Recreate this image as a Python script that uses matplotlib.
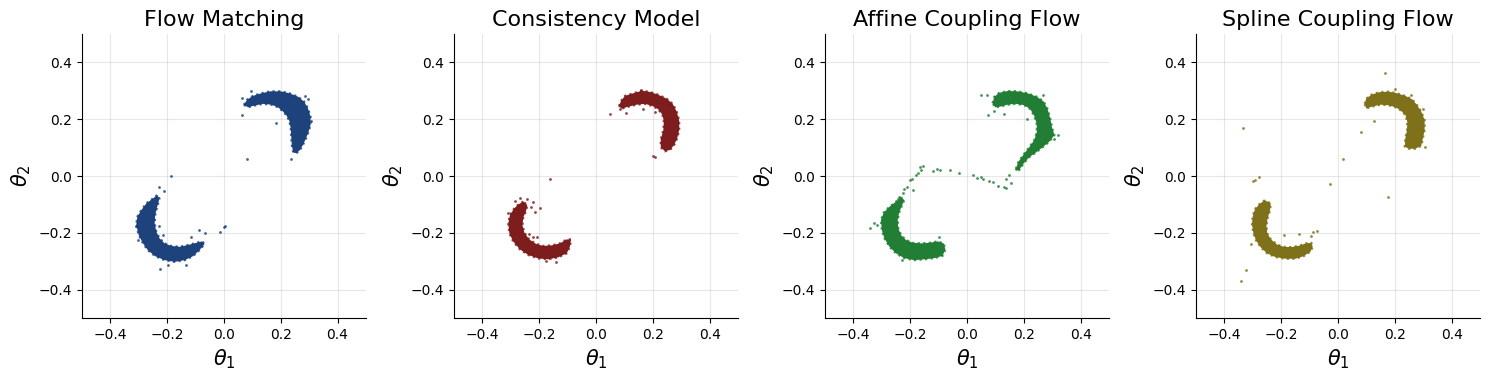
"""Four-panel comparison of posterior samples (two-moons) for different generative models."""
import numpy as np
import matplotlib
matplotlib.use("Agg")
import matplotlib.pyplot as plt

TITLES = ["Flow Matching", "Consistency Model", "Affine Coupling Flow", "Spline Coupling Flow"]
COLORS = ["#153c78", "#7a1515", "#1b7a2e", "#7a6c12"]
TICKS = [-0.4, -0.2, 0.0, 0.2, 0.4]

# outlines of the dense sample regions (outer edge then inner edge)
FM_UP_X = [0.070, 0.081, 0.102, 0.131, 0.164, 0.200, 0.231, 0.261, 0.282, 0.296, 0.305, 0.305, 0.298, 0.289,
           0.278, 0.268, 0.255, 0.244, 0.239, 0.237, 0.235, 0.230, 0.219, 0.205, 0.190, 0.167, 0.137, 0.108, 0.085]
FM_UP_Y = [0.250, 0.268, 0.282, 0.291, 0.298, 0.298, 0.291, 0.279, 0.262, 0.238, 0.209, 0.180, 0.156, 0.133,
           0.109, 0.092, 0.080, 0.083, 0.109, 0.138, 0.168, 0.195, 0.215, 0.230, 0.242, 0.251, 0.254, 0.248, 0.242]
FM_LO_X = [-0.235, -0.250, -0.273, -0.291, -0.305, -0.309, -0.300, -0.285, -0.268, -0.242, -0.209, -0.174, -0.138,
           -0.109, -0.086, -0.068, -0.077, -0.097, -0.127, -0.156, -0.185, -0.209, -0.227, -0.238, -0.244, -0.242,
           -0.235, -0.227]
FM_LO_Y = [-0.067, -0.079, -0.096, -0.120, -0.143, -0.173, -0.208, -0.237, -0.261, -0.282, -0.296, -0.302, -0.296,
           -0.282, -0.261, -0.239, -0.230, -0.235, -0.243, -0.249, -0.246, -0.237, -0.219, -0.196, -0.167, -0.137,
           -0.108, -0.079]
FM_PTS_X = [0.065, 0.063, 0.082, 0.094, 0.184, 0.235, 0.308, 0.296, 0.284, -0.185, -0.227, -0.211, 0.005, 0.000,
            -0.015, -0.065, -0.089, -0.115, -0.224, -0.134, -0.197, -0.311, -0.303, -0.230, -0.215]
FM_PTS_Y = [0.276, 0.214, 0.061, 0.299, 0.185, 0.059, 0.194, 0.271, 0.282, 0.001, -0.038, -0.052, -0.175, -0.181,
            -0.196, -0.200, -0.189, -0.216, -0.326, -0.312, -0.312, -0.175, -0.225, -0.176, -0.208]

CM_UP_X = [0.081, 0.088, 0.102, 0.131, 0.161, 0.190, 0.219, 0.249, 0.270, 0.284, 0.293, 0.293, 0.286, 0.275,
           0.261, 0.243, 0.228, 0.228, 0.237, 0.239, 0.234, 0.219, 0.200, 0.173, 0.143, 0.114, 0.090]
CM_UP_Y = [0.246, 0.264, 0.282, 0.291, 0.300, 0.296, 0.286, 0.272, 0.254, 0.227, 0.195, 0.162, 0.133, 0.109,
           0.092, 0.087, 0.101, 0.129, 0.160, 0.191, 0.215, 0.235, 0.246, 0.254, 0.251, 0.244, 0.237]
CM_LO_X = [-0.256, -0.272, -0.288, -0.303, -0.309, -0.305, -0.291, -0.268, -0.238, -0.203, -0.168, -0.133, -0.103,
           -0.092, -0.088, -0.103, -0.127, -0.156, -0.185, -0.211, -0.235, -0.252, -0.259, -0.256, -0.246, -0.242]
CM_LO_Y = [-0.090, -0.099, -0.114, -0.137, -0.167, -0.202, -0.231, -0.258, -0.278, -0.290, -0.293, -0.286, -0.272,
           -0.249, -0.223, -0.223, -0.237, -0.244, -0.246, -0.239, -0.223, -0.200, -0.173, -0.146, -0.122, -0.102]
CM_PTS_X = [0.048, 0.083, 0.106, 0.164, 0.207, 0.202, 0.208, -0.163, -0.285, -0.268, -0.242, -0.223, -0.229,
            -0.198, -0.216, -0.221, -0.207, -0.236, -0.309, -0.141, -0.176, 0.261, 0.160]
CM_PTS_Y = [0.219, 0.235, 0.221, 0.235, 0.225, 0.072, 0.067, -0.009, -0.087, -0.077, -0.082, -0.090, -0.110,
            -0.114, -0.126, -0.216, -0.214, -0.205, -0.131, -0.302, -0.299, 0.250, 0.303]

AC_UP_X = [0.090, 0.096, 0.114, 0.143, 0.178, 0.214, 0.246, 0.270, 0.284, 0.293, 0.300, 0.308, 0.290, 0.266,
           0.243, 0.219, 0.200, 0.184, 0.171, 0.181, 0.200, 0.219, 0.237, 0.246, 0.245, 0.237, 0.223, 0.202,
           0.173, 0.143, 0.116, 0.099]
AC_UP_Y = [0.256, 0.279, 0.293, 0.299, 0.298, 0.291, 0.279, 0.262, 0.235, 0.203, 0.168, 0.144, 0.121, 0.101,
           0.083, 0.066, 0.045, 0.021, 0.023, 0.050, 0.077, 0.101, 0.127, 0.156, 0.185, 0.211, 0.235, 0.249,
           0.254, 0.251, 0.244, 0.242]
AC_LO_X = [-0.230, -0.250, -0.273, -0.293, -0.303, -0.300, -0.291, -0.273, -0.250, -0.221, -0.185, -0.150, -0.115,
           -0.086, -0.076, -0.082, -0.103, -0.133, -0.162, -0.191, -0.215, -0.232, -0.242, -0.244, -0.239, -0.230,
           -0.221]
AC_LO_Y = [-0.075, -0.090, -0.108, -0.128, -0.155, -0.190, -0.219, -0.249, -0.272, -0.289, -0.296, -0.293, -0.289,
           -0.281, -0.258, -0.237, -0.230, -0.235, -0.237, -0.235, -0.225, -0.208, -0.184, -0.155, -0.129, -0.106,
           -0.085]
AC_PTS_X = [-0.221, -0.211, -0.227, -0.238, -0.244, -0.200, -0.195, -0.180, -0.171, -0.162, -0.154, -0.164, -0.191,
            -0.120, -0.107, -0.096, -0.059, -0.027, 0.020, 0.035, 0.049, 0.056, 0.077, 0.090, 0.108, 0.131, 0.138,
            0.155, 0.137, 0.147, 0.174, 0.181, 0.049, 0.069, 0.073, 0.096, 0.131, 0.211, 0.266, 0.319, 0.308,
            -0.342, -0.326, -0.317, -0.097, -0.230]
AC_PTS_Y = [-0.047, -0.040, -0.059, -0.073, -0.081, -0.014, -0.009, 0.004, 0.012, 0.021, 0.035, 0.031, -0.049,
            0.018, 0.023, 0.021, 0.021, 0.012, 0.005, -0.006, -0.005, -0.012, -0.018, -0.022, -0.035, -0.038, -0.041,
            -0.026, -0.011, 0.002, 0.023, 0.028, 0.286, 0.286, 0.214, 0.228, 0.218, 0.200, 0.284, 0.144, 0.129,
            -0.184, -0.164, -0.173, -0.216, -0.296]

SC_UP_X = [0.094, 0.099, 0.117, 0.146, 0.178, 0.208, 0.237, 0.261, 0.278, 0.293, 0.305, 0.305, 0.299, 0.293,
           0.272, 0.249, 0.235, 0.237, 0.243, 0.244, 0.237, 0.219, 0.202, 0.178, 0.149, 0.120, 0.099]
SC_UP_Y = [0.254, 0.272, 0.286, 0.295, 0.297, 0.291, 0.282, 0.270, 0.250, 0.227, 0.197, 0.162, 0.133, 0.106,
           0.096, 0.096, 0.103, 0.133, 0.162, 0.191, 0.215, 0.232, 0.242, 0.249, 0.251, 0.244, 0.238]
SC_LO_X = [-0.258, -0.277, -0.292, -0.300, -0.303, -0.298, -0.288, -0.272, -0.250, -0.221, -0.185, -0.150, -0.121,
           -0.097, -0.089, -0.094, -0.113, -0.136, -0.162, -0.191, -0.215, -0.236, -0.249, -0.252, -0.248, -0.239,
           -0.237]
SC_LO_Y = [-0.085, -0.099, -0.116, -0.140, -0.169, -0.202, -0.228, -0.251, -0.272, -0.285, -0.291, -0.291, -0.282,
           -0.266, -0.249, -0.235, -0.237, -0.245, -0.250, -0.249, -0.241, -0.223, -0.202, -0.176, -0.149, -0.120,
           -0.096]
SC_PTS_X = [0.164, 0.200, 0.258, 0.298, 0.127, 0.080, 0.016, -0.029, 0.175, 0.308, -0.336, -0.300, -0.293, -0.279,
            -0.325, -0.343, -0.073, -0.089, -0.094, -0.138, -0.191, -0.305]
SC_PTS_Y = [0.362, 0.305, 0.285, 0.237, 0.195, 0.154, 0.061, -0.027, -0.075, 0.103, 0.170, -0.019, -0.014, -0.002,
            -0.330, -0.369, -0.192, -0.197, -0.210, -0.203, -0.209, -0.239]

PANELS = [
    (FM_UP_X, FM_UP_Y, FM_LO_X, FM_LO_Y, FM_PTS_X, FM_PTS_Y),
    (CM_UP_X, CM_UP_Y, CM_LO_X, CM_LO_Y, CM_PTS_X, CM_PTS_Y),
    (AC_UP_X, AC_UP_Y, AC_LO_X, AC_LO_Y, AC_PTS_X, AC_PTS_Y),
    (SC_UP_X, SC_UP_Y, SC_LO_X, SC_LO_Y, SC_PTS_X, SC_PTS_Y),
]

fig = plt.figure(figsize=(14.9, 3.81), dpi=100)
lefts = [0.0550, 0.3047, 0.5537, 0.8027]

for left, title, color, (ux, uy, lx, ly, px, py) in zip(lefts, TITLES, COLORS, PANELS):
    ax = fig.add_axes([left, 0.165, 0.1906, 0.746])
    # dense regions: solid fill with a dotted rim so the edge looks speckled like the samples
    for xs, ys in ((ux, uy), (lx, ly)):
        ax.fill(xs, ys, color=color, alpha=0.97, lw=0, zorder=3)
        ax.plot(xs + xs[:1], ys + ys[:1], ls=(0, (1, 1.5)), lw=1.6, color=color, alpha=0.8, zorder=3)
    ax.scatter(px, py, s=4, color=color, alpha=0.8, lw=0, zorder=3)
    ax.set_xlim(-0.5, 0.5)
    ax.set_ylim(-0.5, 0.5)
    ax.set_xticks(TICKS)
    ax.set_yticks(TICKS)
    ax.grid(True, alpha=0.3)
    ax.set_axisbelow(True)
    ax.spines["top"].set_visible(False)
    ax.spines["right"].set_visible(False)
    ax.set_title(title, fontsize=16)
    ax.set_xlabel(r"$\theta_1$", fontsize=15)
    ax.set_ylabel(r"$\theta_2$", fontsize=15)

plt.savefig("out.png", dpi=100)
